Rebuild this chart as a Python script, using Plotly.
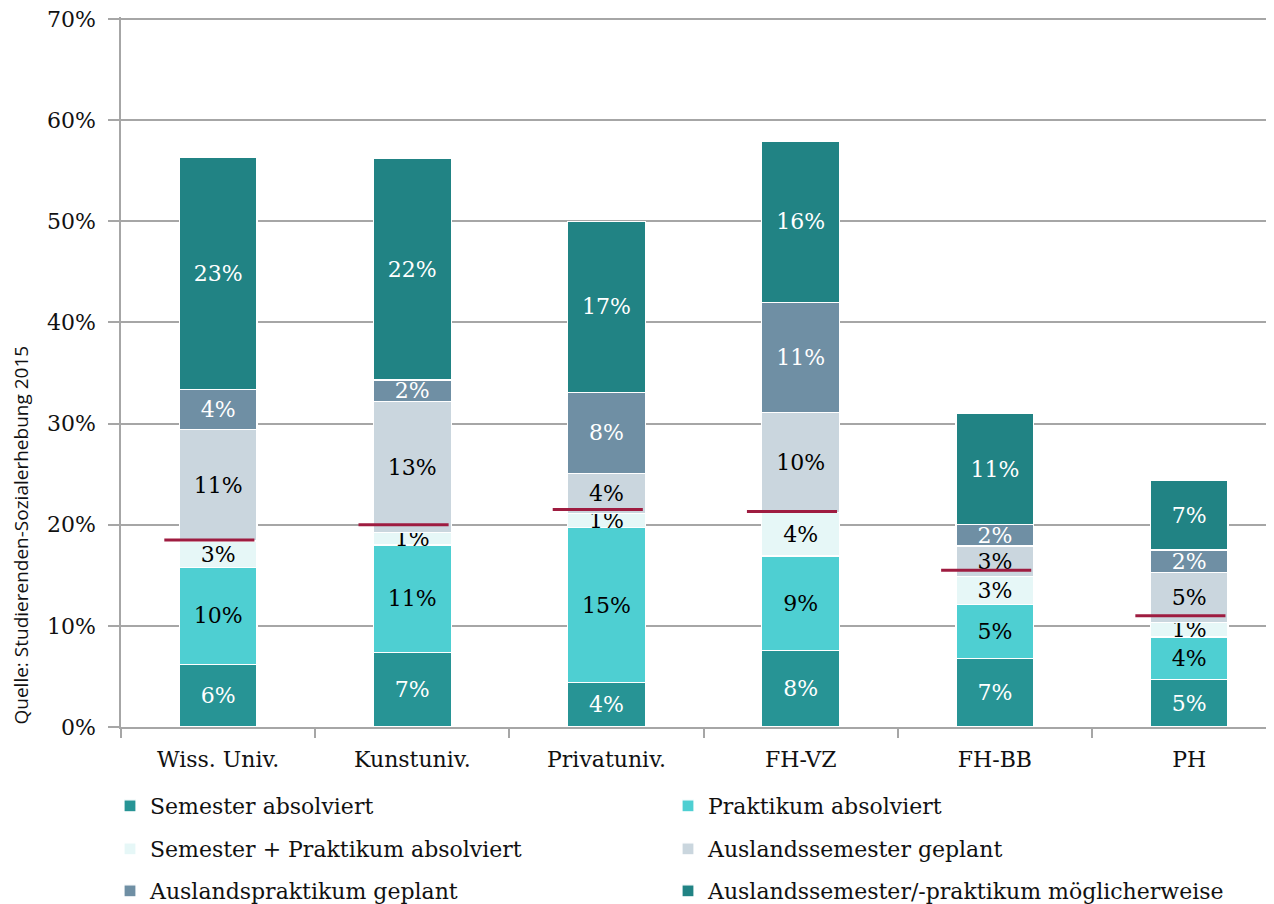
import plotly.graph_objects as go

# categories and stacked shares (percent)
categories = ["Wiss. Univ.", "Kunstuniv.", "Privatuniv.", "FH-VZ", "FH-BB", "PH"]

semester_done = [6.2, 7.4, 4.4, 7.6, 6.8, 4.7]
praktikum_done = [9.6, 10.6, 15.3, 9.3, 5.3, 4.2]
sem_prak_done = [2.6, 1.2, 1.4, 4.3, 2.8, 1.4]
semester_planned = [11.0, 13.0, 4.0, 9.9, 3.0, 5.0]
praktikum_planned = [4.0, 2.1, 8.0, 10.9, 2.1, 2.2]
maybe = [22.9, 21.9, 16.9, 15.9, 11.0, 6.9]

# red reference marks (percent)
reference_marks = [18.5, 20.0, 21.5, 21.3, 15.5, 11.0]

y_ticks = [0, 10, 20, 30, 40, 50, 60, 70]

series = [
    ("Semester absolviert", semester_done, "#279495", "white"),
    ("Praktikum absolviert", praktikum_done, "#4ECFD2", "black"),
    ("Semester + Praktikum absolviert", sem_prak_done, "#E6F7F7", "black"),
    ("Auslandssemester geplant", semester_planned, "#CAD6DE", "black"),
    ("Auslandspraktikum geplant", praktikum_planned, "#6F8FA4", "white"),
    ("Auslandssemester/-praktikum möglicherweise", maybe, "#218384", "white"),
]

SERIF = "DejaVu Serif"
x_pos = list(range(len(categories)))

# the page body adds an 8px offset, so the layout is placed 8px up/left
W, H = 1274, 904
OFF = 8

fig = go.Figure()

for i, (name, vals, color, txt_color) in enumerate(series):
    fig.add_trace(
        go.Bar(
            x=x_pos,
            y=vals,
            name=name,
            width=0.4,
            marker=dict(color=color, line=dict(color="white", width=1.2)),
            texttemplate="%{y:.0f}%",
            textposition="inside",
            insidetextanchor="middle",
            textangle=0,
            constraintext="none",
            textfont=dict(family=SERIF, size=22, color=txt_color),
            legend=["legend", "legend2", "legend3"][i // 2],
            hoverinfo="skip",
        )
    )

# red marks drawn as short horizontal segments
mark_x, mark_y = [], []
for i, v in enumerate(reference_marks):
    c = i - 0.045
    mark_x += [c - 0.232, c + 0.232, None]
    mark_y += [v, v, None]
fig.add_trace(
    go.Scatter(
        x=mark_x,
        y=mark_y,
        mode="lines",
        line=dict(color="#9E1C40", width=3),
        showlegend=False,
        hoverinfo="skip",
    )
)

legend_common = dict(
    orientation="h",
    xref="container",
    yref="container",
    x=(110 - OFF) / W,
    xanchor="left",
    yanchor="middle",
    entrywidth=513,
    entrywidthmode="pixels",
    font=dict(family=SERIF, size=22, color="#111111"),
    bgcolor="rgba(0,0,0,0)",
    traceorder="normal",
)

plot_left = 121 - OFF
fig.update_layout(
    width=W,
    height=H,
    # top margin 2px smaller with a slightly taller range, so the 70% grid line is drawn
    margin=dict(l=plot_left, r=OFF, t=19 - OFF - 2, b=H - (727 - OFF)),
    plot_bgcolor="white",
    paper_bgcolor="white",
    barmode="stack",
    bargap=0.6,
    uniformtext=dict(minsize=22, mode="show"),
    legend=dict(legend_common, y=1 - (806 - OFF) / H),
    legend2=dict(legend_common, y=1 - (849 - OFF) / H),
    legend3=dict(legend_common, y=1 - (891 - OFF) / H),
    xaxis=dict(
        range=[-0.5, 5.437],
        tickvals=x_pos,
        ticktext=categories,
        ticks="",
        ticklabelstandoff=12,
        automargin=False,
        showgrid=False,
        showline=True,
        linecolor="#A6A6A6",
        linewidth=1.5,
        tickfont=dict(family=SERIF, size=22, color="#111111"),
        minor=dict(ticks="outside", tick0=0.5, dtick=1, ticklen=9, tickcolor="#A6A6A6", tickwidth=1.5, showgrid=False),
        zeroline=False,
    ),
    yaxis=dict(
        range=[0, 70.2],
        tickvals=y_ticks,
        ticktext=[f"{t}%" for t in y_ticks],
        showgrid=True,
        gridcolor="#A6A6A6",
        gridwidth=1.5,
        showline=True,
        linecolor="#A6A6A6",
        linewidth=1.5,
        ticks="outside",
        ticklen=11,
        tickcolor="#A6A6A6",
        tickwidth=1.5,
        ticklabelstandoff=8,
        ticklabeloverflow="allow",
        automargin=False,
        tickfont=dict(family=SERIF, size=22, color="#111111"),
        zeroline=False,
    ),
    annotations=[
        dict(
            text="Quelle: Studierenden-Sozialerhebung 2015",
            xref="paper",
            yref="paper",
            x=(20 - 121) / 1153,
            y=0,
            xanchor="center",
            yanchor="bottom",
            textangle=-90,
            showarrow=False,
            font=dict(family="Open Sans", size=19, color="#111111"),
        )
    ],
)

fig.write_html("out.html")
